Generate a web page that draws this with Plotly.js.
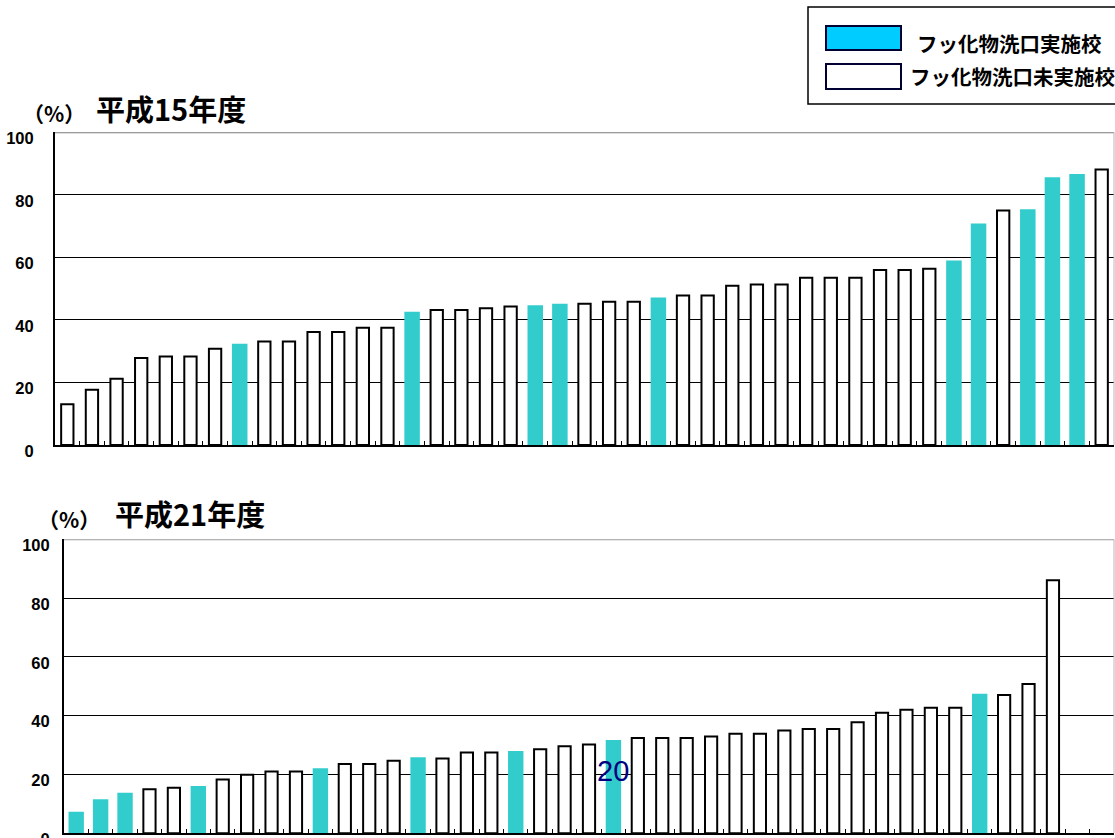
<!DOCTYPE html>
<html>
<head>
<meta charset="utf-8">
<script src="https://cdn.plot.ly/plotly-3.0.1.min.js"></script>
<style>
  html, body { margin: 0; padding: 0; background: #ffffff; }
  #chart { width: 1115px; height: 838px; }
</style>
</head>
<body>
<div id="chart"></div>
<script>
// Rate per municipality (%), sorted ascending, 平成15年度
const rates2003 = [13.0, 17.7, 21.2, 27.8, 28.3, 28.3, 30.8, 32.4, 33.1, 33.1, 36.1, 36.1, 37.5, 37.5,
  42.6, 43.2, 43.2, 43.7, 44.3, 44.7, 45.2, 45.2, 45.8, 45.8, 47.2, 47.8, 47.8, 50.9, 51.3, 51.3,
  53.5, 53.5, 53.5, 56.0, 56.0, 56.4, 59.0, 70.8, 75.0, 75.4, 85.6, 86.7, 88.1];
// 1 = フッ化物洗口実施校, 0 = 未実施校
const fluoride2003 = [0, 0, 0, 0, 0, 0, 0, 1, 0, 0, 0, 0, 0, 0,
  1, 0, 0, 0, 0, 1, 1, 0, 0, 0, 1, 0, 0, 0, 0, 0,
  0, 0, 0, 0, 0, 0, 1, 1, 0, 1, 1, 1, 0];

// Rate per municipality (%), sorted ascending, 平成21年度
const rates2009 = [7.3, 11.6, 13.8, 15.0, 15.5, 16.1, 18.3, 19.9, 21.0, 21.0, 22.1, 23.6, 23.6, 24.7,
  25.9, 25.4, 27.5, 27.5, 28.0, 28.6, 29.6, 30.2, 31.7, 32.4, 32.4, 32.4, 32.9, 33.9, 33.9,
  35.0, 35.5, 35.5, 37.8, 41.0, 42.0, 42.7, 42.7, 47.5, 47.0, 50.8, 86.1];
const fluoride2009 = [1, 1, 1, 0, 0, 1, 0, 0, 0, 0, 1, 0, 0, 0,
  1, 0, 0, 0, 1, 0, 0, 0, 1, 0, 0, 0, 0, 0, 0,
  0, 0, 0, 0, 0, 0, 0, 0, 1, 0, 0, 0];

const categoryCount = 43;
const yTicks = [0, 20, 40, 60, 80, 100];

const titles = ['平成15年度', '平成21年度'];
const unitLabel = '（%）';
const legendLabels = ['フッ化物洗口実施校', 'フッ化物洗口未実施校'];
const strayLabel = '20';

const BAR_TEAL = '#33CCCC';
const SWATCH_CYAN = '#00CCFF';
const W = 1115, H = 838;

function barTrace(rates, flags, xa, ya) {
  return {
    type: 'bar',
    x: rates.map((_, i) => i + 1),
    y: rates,
    xaxis: xa, yaxis: ya,
    width: flags.map(f => f ? 0.63 : 0.5),
    marker: {
      color: flags.map(f => f ? BAR_TEAL : '#ffffff'),
      line: {
        color: flags.map(f => f ? BAR_TEAL : '#000000'),
        width: flags.map(f => f ? 0 : 2)
      }
    },
    hoverinfo: 'skip',
    showlegend: false
  };
}

const px = v => v / W;
const py = v => 1 - v / H;

function xAxis(left, right) {
  return {
    domain: [px(left), px(right)],
    range: [0.5, categoryCount + 0.5],
    showgrid: false, zeroline: false,
    showline: true, linecolor: '#000000', linewidth: 2,
    tickmode: 'linear', tick0: 0.5, dtick: 1,
    ticks: 'inside', ticklen: 4, tickwidth: 1, tickcolor: '#000000',
    showticklabels: false, fixedrange: true
  };
}

function yAxis(top, bottom, anchor, standoff) {
  return {
    domain: [py(bottom), py(top)],
    anchor: anchor,
    range: [0, 100],
    tickmode: 'array', tickvals: yTicks,
    showgrid: true, gridcolor: '#000000', gridwidth: 1,
    zeroline: false,
    showline: true, linecolor: '#000000', linewidth: 2,
    ticks: '',
    ticklabelstandoff: standoff,
    ticklabelshift: 6,
    ticklabeloverflow: 'allow',
    tickfont: { family: 'Liberation Sans, Arial, sans-serif', size: 16.5, color: '#000000', weight: 'bold' },
    fixedrange: true
  };
}

const data = [
  barTrace(rates2003, fluoride2003, 'x', 'y'),
  barTrace(rates2009, fluoride2009, 'x2', 'y2')
];

const cjk = 'Noto Sans CJK JP, sans-serif';

function textNote(text, xPix, yPix, size, opts) {
  return Object.assign({
    text: text, xref: 'paper', yref: 'paper',
    x: px(xPix), y: py(yPix), xanchor: 'left', yanchor: 'middle',
    showarrow: false,
    font: { family: cjk, size: size, color: '#000000', weight: 'bold' }
  }, opts || {});
}

const annotations = [
  textNote(unitLabel, 21, 113, 21),
  textNote(titles[0], 94, 108, 29),
  textNote(unitLabel, 36, 519, 21),
  textNote(titles[1], 113, 513, 29),
  textNote(legendLabels[0], 915, 43, 20.5),
  textNote(legendLabels[1], 908, 76, 20.5),
  textNote(strayLabel, 613, 771, 29, {
    xanchor: 'center',
    font: { family: 'Liberation Sans, Arial, sans-serif', size: 29, color: '#000080' }
  })
];

const shapes = [
  // top frame and right border of each plot
  { type: 'line', xref: 'x domain', yref: 'y', x0: 0, x1: 1, y0: 100, y1: 100, line: { color: '#7a7a7a', width: 2 } },
  { type: 'line', xref: 'x domain', yref: 'y domain', x0: 1, x1: 1, y0: 0, y1: 1, line: { color: '#b8b8b8', width: 1 } },
  { type: 'line', xref: 'x2 domain', yref: 'y2', x0: 0, x1: 1, y0: 100, y1: 100, line: { color: '#9a9a9a', width: 2 } },
  { type: 'line', xref: 'x2 domain', yref: 'y2 domain', x0: 1, x1: 1, y0: 0, y1: 1, line: { color: '#b8b8b8', width: 1 } },
  // legend box and swatches
  { type: 'rect', xref: 'paper', yref: 'paper', x0: px(808), x1: px(1125), y0: py(104), y1: py(7),
    line: { color: '#000000', width: 1.5 }, fillcolor: 'rgba(0,0,0,0)' },
  { type: 'rect', xref: 'paper', yref: 'paper', x0: px(826), x1: px(901), y0: py(50), y1: py(26),
    line: { color: '#000033', width: 2 }, fillcolor: SWATCH_CYAN },
  { type: 'rect', xref: 'paper', yref: 'paper', x0: px(826), x1: px(901), y0: py(89), y1: py(64),
    line: { color: '#000033', width: 2 }, fillcolor: '#ffffff' }
];

const layout = {
  width: W, height: H,
  margin: { l: 0, r: 0, t: 0, b: 0 },
  paper_bgcolor: '#ffffff', plot_bgcolor: '#ffffff',
  barmode: 'overlay',
  showlegend: false,
  xaxis: Object.assign(xAxis(55, 1114), { anchor: 'y' }),
  yaxis: yAxis(132.3, 445, 'x', 16),
  xaxis2: Object.assign(xAxis(64, 1114), { anchor: 'y2' }),
  yaxis2: yAxis(539.3, 833.3, 'x2', 9),
  annotations: annotations,
  shapes: shapes
};

Plotly.newPlot('chart', data, layout, { staticPlot: true, displayModeBar: false });
</script>
</body>
</html>
